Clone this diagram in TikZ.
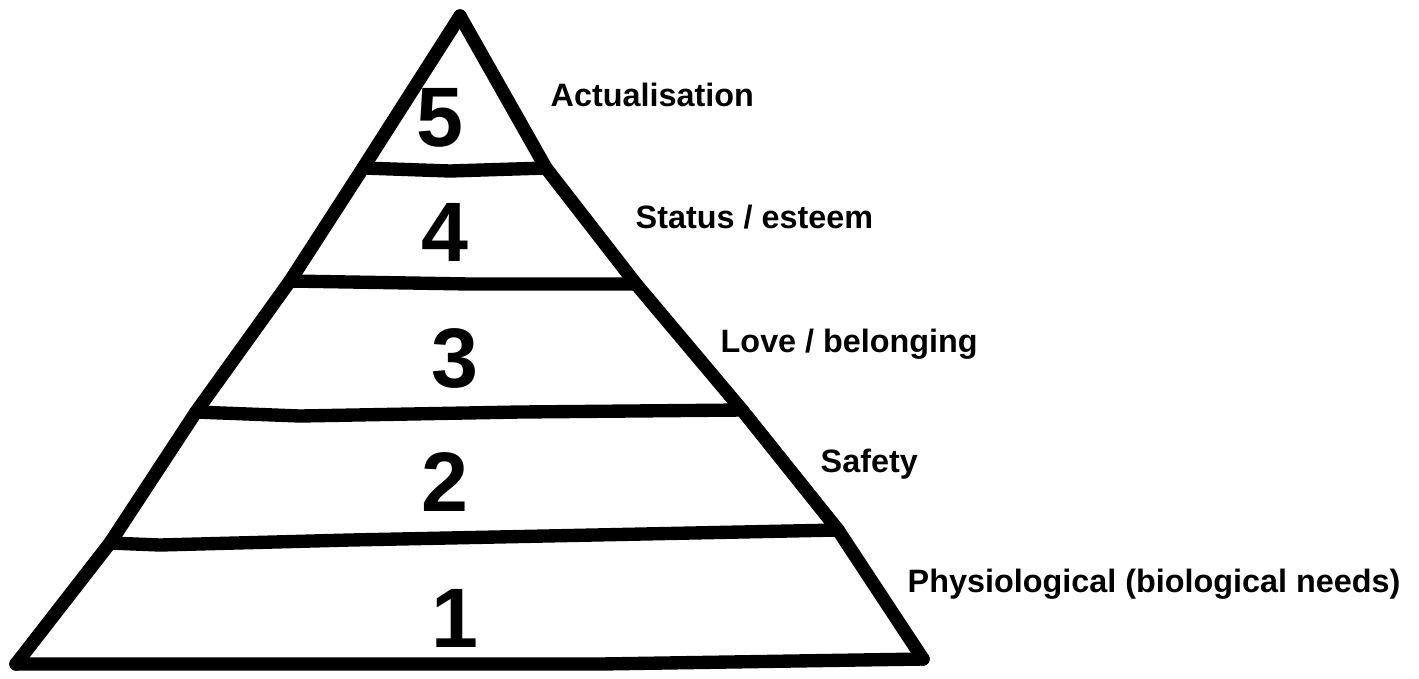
\documentclass[tikz,border=0pt]{standalone}
\usepackage{fontspec}
\setmainfont{Liberation Sans}
\usetikzlibrary{positioning}

\begin{document}
\begin{tikzpicture}[
      x=0.01cm, y=-0.01cm,
      pyrline/.style={line width=3.8pt, line cap=round, line join=round},
      tiernum/.style={font=\fontsize{24}{28}\selectfont\bfseries, inner sep=0pt},
      needlabel/.style={font=\fontsize{9.2}{11}\selectfont\bfseries, anchor=base west, inner sep=0pt}
    ]
      \fill[white] (0,0) rectangle (1419,678);
      \useasboundingbox (0,0) rectangle (1419,678);

      % outline points
      \coordinate (apex) at (460,16);
      \coordinate (l5) at (363,168);
      \coordinate (l4) at (290,281);
      \coordinate (l3) at (196,412);
      \coordinate (l2) at (110,543);
      \coordinate (lfoot) at (16,664);
      \coordinate (r5) at (546,168);
      \coordinate (r4) at (636,284);
      \coordinate (r3) at (742,410);
      \coordinate (r2) at (838,530);
      \coordinate (rfoot) at (923,659);

      \draw[pyrline] (apex) -- (l5) -- (l4) -- (l3) -- (l2) -- (lfoot);
      \draw[pyrline] (apex) -- (r5) -- (r4) -- (r3) -- (r2) -- (rfoot);
      \draw[pyrline] (lfoot) -- (340,664) -- (600,664) -- (rfoot);

      \draw[pyrline] (l5) -- (450,171) -- (r5);
      \draw[pyrline] (l4) -- (470,284) -- (r4);
      \draw[pyrline] (l3) -- (300,416) -- (520,412) -- (r3);
      \draw[pyrline] (l2) -- (160,545) -- (350,540) -- (r2);

      \node[tiernum] (n5) at (440,118) {5};
      \node[tiernum] (n4) at (445,232) {4};
      \node[tiernum] (n3) at (455,358) {3};
      \node[tiernum] (n2) at (445,482) {2};
      \node[tiernum] (n1) at (455,618) {1};

      \node[needlabel] (actual) at (550,106) {Actualisation};
      \node[needlabel] (status) at (635,228) {Status / esteem};
      \node[needlabel] (love) at (720,352) {Love / belonging};
      \node[needlabel] (safety) at (820,472) {Safety};
      \node[needlabel] (physio) at (907,592) {Physiological (biological needs)};
    \end{tikzpicture}
\end{document}
